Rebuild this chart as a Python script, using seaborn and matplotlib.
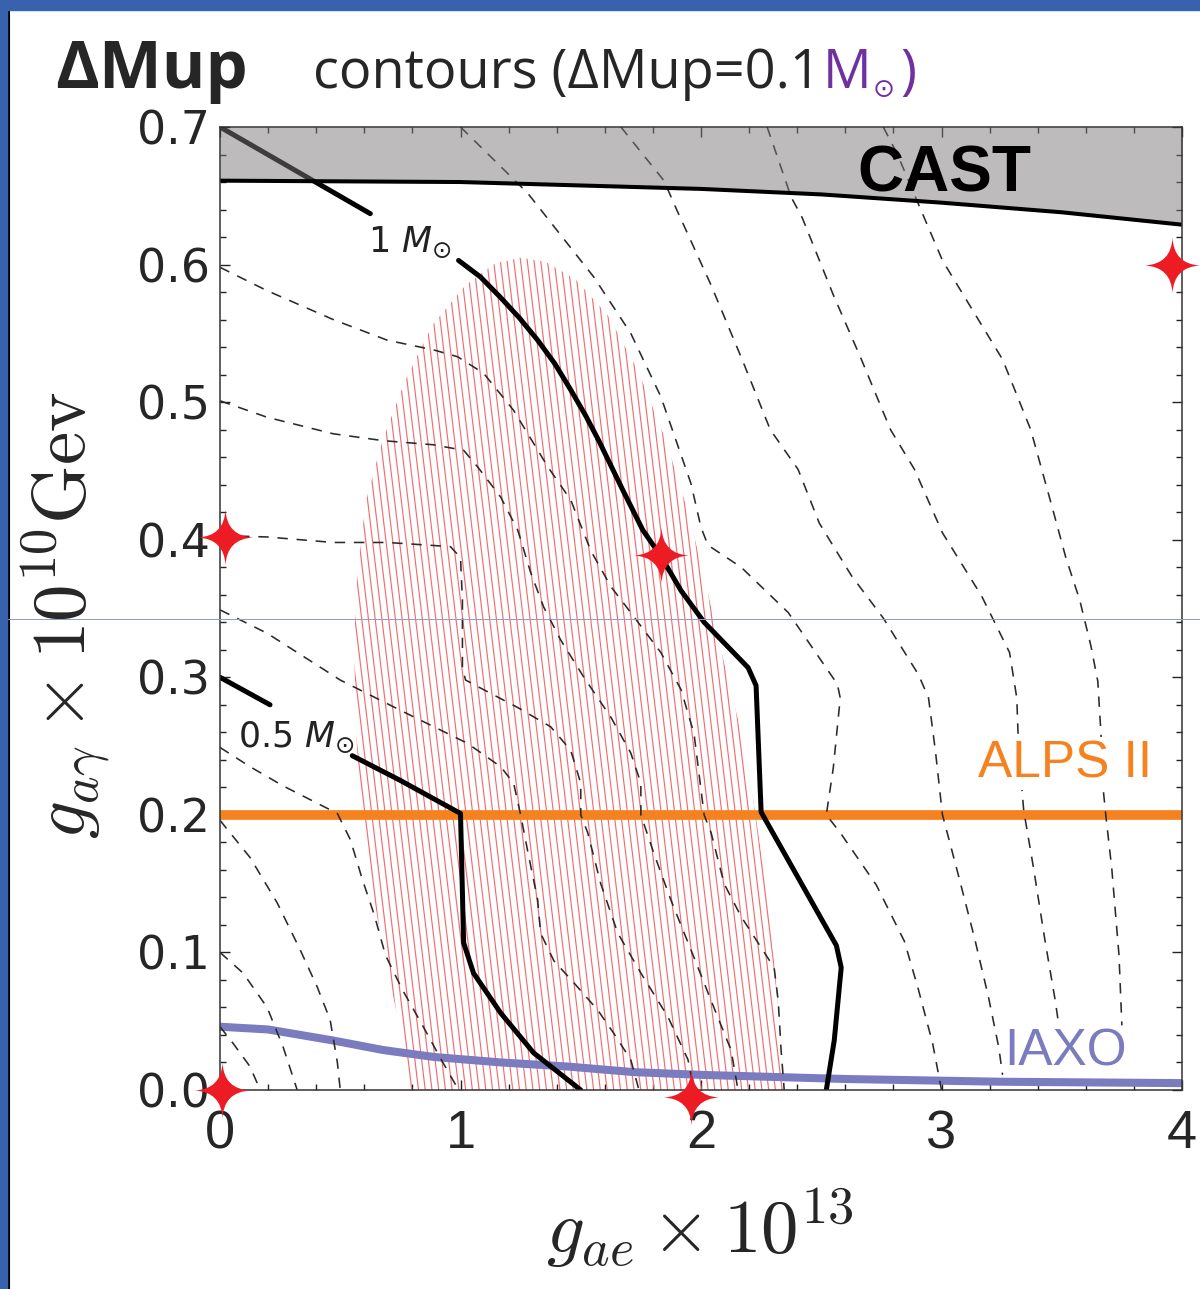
import numpy as np
import pandas as pd
import seaborn as sns
import matplotlib.pyplot as plt
from matplotlib.path import Path
from matplotlib.patches import Polygon, Rectangle
from matplotlib.collections import LineCollection
from matplotlib.lines import Line2D
from matplotlib.ticker import MultipleLocator

sns.set_theme(style="ticks")
plt.rcParams["font.family"] = ["DejaVu Sans"]
plt.rcParams["mathtext.fontset"] = "cm"

# values: x = g_ae * 1e13, y = g_ay * 1e10 GeV
x_ticks = [0, 1, 2, 3, 4]
x_ticklabels = ["0", "1", "2", "3", "4"]
y_ticks = [0.0, 0.1, 0.2, 0.3, 0.4, 0.5, 0.6, 0.7]
y_ticklabels = ["0.0", "0.1", "0.2", "0.3", "0.4", "0.5", "0.6", "0.7"]

# CAST exclusion boundary (shaded above)
cast_x = [0.0, 1.0, 2.0, 2.5, 3.0, 3.5, 4.0]
cast_y = [0.661, 0.660, 0.655, 0.651, 0.645, 0.638, 0.629]

# ALPS II sensitivity
alps_x = [0.0, 4.0]
alps_y = [0.2, 0.2]

# IAXO sensitivity
iaxo_x = [0.0, 0.2, 0.47, 0.68, 0.89, 1.17, 1.45, 1.72, 2.0, 2.6, 3.25, 4.0]
iaxo_y = [0.046, 0.044, 0.036, 0.029, 0.024, 0.020, 0.017, 0.013, 0.011, 0.008, 0.006, 0.005]

# red hatched region
hatch_x = [0.792, 0.750, 0.688, 0.625, 0.583, 0.563, 0.558, 0.571, 0.608, 0.675, 0.771, 0.883,
           1.021, 1.146, 1.250, 1.354, 1.479, 1.613, 1.738, 1.854, 1.950, 2.021, 2.083, 2.154,
           2.217, 2.267, 2.304, 2.329, 2.342]
hatch_y = [0.000, 0.044, 0.094, 0.153, 0.211, 0.269, 0.327, 0.378, 0.429, 0.472, 0.516, 0.556,
           0.585, 0.601, 0.605, 0.602, 0.589, 0.563, 0.523, 0.472, 0.418, 0.367, 0.320, 0.269,
           0.211, 0.153, 0.094, 0.044, 0.000]

# solid contours (0.5 and 1 Msun), split around their labels
m05a_x = [0.0, 0.208]
m05a_y = [0.300, 0.280]
m05b_x = [0.55, 0.75, 1.0, 1.013, 1.054, 1.167, 1.304, 1.5]
m05b_y = [0.243, 0.225, 0.201, 0.107, 0.085, 0.056, 0.027, 0.0]
m10a_x = [0.0, 0.625]
m10a_y = [0.700, 0.637]
m10b_x = [0.992, 1.083, 1.167, 1.246, 1.321, 1.392, 1.458, 1.521, 1.575, 1.675, 1.758, 1.833,
          1.917, 2.013, 2.196, 2.229, 2.250, 2.279, 2.563, 2.583, 2.554, 2.521]
m10b_y = [0.603, 0.591, 0.576, 0.561, 0.545, 0.528, 0.509, 0.490, 0.472, 0.436, 0.407, 0.388,
          0.363, 0.340, 0.307, 0.294, 0.202, 0.193, 0.105, 0.089, 0.036, 0.0]

# dashed contours, every 0.1 Msun
c01_x = [0.0, 0.054, 0.125, 0.167]
c01_y = [0.046, 0.034, 0.017, 0.0]
c02_x = [0.0, 0.096, 0.196, 0.263, 0.321]
c02_y = [0.100, 0.085, 0.060, 0.031, 0.0]
c03_x = [0.0, 0.125, 0.238, 0.333, 0.404, 0.458, 0.488, 0.5]
c03_y = [0.196, 0.169, 0.136, 0.102, 0.075, 0.051, 0.020, 0.0]
c04_x = [0.0, 0.125, 0.263, 0.488, 0.542, 0.592, 0.642, 0.688, 0.758, 0.842, 0.917, 0.992]
c04_y = [0.249, 0.235, 0.221, 0.201, 0.182, 0.153, 0.127, 0.098, 0.073, 0.047, 0.023, 0.0]
c06_x = [0.0, 0.196, 0.375, 0.5, 0.75, 1.029, 1.167, 1.221, 1.25, 1.279, 1.321, 1.333, 1.388,
         1.471, 1.571, 1.638, 1.708, 1.742]
c06_y = [0.349, 0.332, 0.312, 0.298, 0.276, 0.252, 0.235, 0.223, 0.200, 0.174, 0.138, 0.114,
         0.094, 0.078, 0.058, 0.041, 0.022, 0.0]
c07_x = [0.0, 0.196, 0.471, 0.696, 0.958, 1.0, 1.008, 1.008, 1.021, 1.096, 1.238, 1.375, 1.458,
         1.5, 1.5, 1.529, 1.583, 1.654, 1.75, 1.863, 1.946, 1.971]
c07_y = [0.403, 0.402, 0.398, 0.398, 0.395, 0.387, 0.356, 0.307, 0.298, 0.291, 0.278, 0.264,
         0.247, 0.223, 0.200, 0.187, 0.150, 0.114, 0.085, 0.053, 0.022, 0.0]
c08_x = [0.0, 0.196, 0.471, 0.679, 0.888, 1.013, 1.071, 1.167, 1.238, 1.292, 1.346, 1.417, 1.513,
         1.625, 1.708, 1.75, 1.75, 1.804, 1.875, 1.958, 2.042, 2.125, 2.154]
c08_y = [0.501, 0.489, 0.477, 0.472, 0.469, 0.465, 0.453, 0.431, 0.407, 0.376, 0.351, 0.327,
         0.300, 0.271, 0.245, 0.223, 0.200, 0.172, 0.138, 0.102, 0.065, 0.029, 0.0]
c09_x = [0.0, 0.196, 0.471, 0.696, 0.888, 0.988, 1.096, 1.221, 1.363, 1.458, 1.542, 1.625, 1.721,
         1.833, 1.917, 1.971, 1.988, 2.013, 2.042, 2.096, 2.167, 2.263, 2.304, 2.321, 2.333, 2.346]
c09_y = [0.598, 0.581, 0.560, 0.545, 0.538, 0.533, 0.521, 0.494, 0.453, 0.429, 0.392, 0.366,
         0.344, 0.318, 0.291, 0.259, 0.235, 0.200, 0.187, 0.150, 0.126, 0.100, 0.089, 0.065,
         0.029, 0.0]
c11_x = [1.0, 1.279, 1.554, 1.708, 1.833, 1.958, 2.0, 2.029, 2.167, 2.363, 2.567, 2.579, 2.55,
         2.521, 2.579, 2.729, 2.846, 2.904, 2.963, 3.0]
c11_y = [0.700, 0.652, 0.591, 0.550, 0.504, 0.441, 0.409, 0.396, 0.380, 0.347, 0.295, 0.285,
         0.234, 0.200, 0.187, 0.149, 0.108, 0.073, 0.034, 0.0]
c12_x = [1.667, 1.846, 1.896, 2.042, 2.171, 2.288, 2.404, 2.492, 2.625, 2.758, 2.904, 2.946,
         2.975, 3.004, 3.063, 3.138, 3.196, 3.238, 3.254]
c12_y = [0.700, 0.661, 0.641, 0.585, 0.531, 0.480, 0.451, 0.412, 0.374, 0.343, 0.302, 0.285,
         0.246, 0.200, 0.161, 0.110, 0.067, 0.031, 0.011]
c13_x = [2.275, 2.375, 2.421, 2.55, 2.667, 2.788, 2.888, 3.004, 3.167, 3.283, 3.313, 3.321,
         3.342, 3.383, 3.429, 3.471, 3.488]
c13_y = [0.700, 0.649, 0.634, 0.578, 0.531, 0.480, 0.451, 0.405, 0.359, 0.318, 0.285, 0.246,
         0.203, 0.161, 0.110, 0.067, 0.047]
c14_x = [2.758, 2.817, 2.904, 3.004, 3.108, 3.254, 3.371, 3.458, 3.517, 3.575, 3.621, 3.65,
         3.663, 3.671, 3.683, 3.708, 3.738, 3.75]
c14_y = [0.700, 0.680, 0.644, 0.603, 0.573, 0.531, 0.480, 0.425, 0.387, 0.356, 0.323, 0.297,
         0.259, 0.221, 0.200, 0.161, 0.098, 0.047]

# red star markers added on the slide
star_x = [0.008, 1.958, 0.02, 1.833, 3.958]
star_y = [0.0, -0.005, 0.402, 0.389, 0.600]

W, H = 1200, 1289
fig = plt.figure(figsize=(12, 12.89), dpi=100)
fig.patch.set_facecolor("white")
ax = fig.add_axes([220 / W, (H - 1090) / H, 962 / W, 963 / H])
ax.set_facecolor("white")


def line(xs, ys, **kw):
    df = pd.DataFrame({"x": xs, "y": ys})
    sns.lineplot(data=df, x="x", y="y", sort=False, estimator=None, ax=ax, **kw)


# hatched band: steep "\" strokes clipped to the region outline
poly = Polygon(np.column_stack([hatch_x, hatch_y]), closed=True, fill=False,
               edgecolor="none")
ax.add_patch(poly)
starts = np.arange(0.3, 3.3, 0.028)
segs = [[(s, -0.05), (s - 0.69 * 0.8, 0.75)] for s in starts]
lc = LineCollection(segs, colors="#f26d70", linewidths=0.85, zorder=1)
ax.add_collection(lc)
lc.set_clip_path(poly)

line(iaxo_x, iaxo_y, color="#7b7bc0", lw=5.8, zorder=2)
line(alps_x, alps_y, color="#f5821f", lw=7, zorder=2.5, solid_capstyle="butt")

dashed = [(c01_x, c01_y), (c02_x, c02_y), (c03_x, c03_y), (c04_x, c04_y),
          (c06_x, c06_y), (c07_x, c07_y), (c08_x, c08_y), (c09_x, c09_y),
          (c11_x, c11_y), (c12_x, c12_y), (c13_x, c13_y), (c14_x, c14_y)]
for xs, ys in dashed:
    line(xs, ys, color="#2a2a2a", lw=1.15, linestyle=(0, (6.5, 5.5)), zorder=3)

for xs, ys in [(m05a_x, m05a_y), (m05b_x, m05b_y), (m10a_x, m10a_y), (m10b_x, m10b_y)]:
    line(xs, ys, color="black", lw=3.6, zorder=3.5, solid_joinstyle="round")

# CAST region drawn semi-transparent over the contours
ax.fill_between(cast_x, cast_y, 0.7, color="#7d7878", alpha=0.5, lw=0, zorder=4)
line(cast_x, cast_y, color="black", lw=2.9, zorder=5)

ax.text(3.013, 0.653, "CAST", fontsize=46, fontweight="bold", family="Liberation Sans",
        ha="center", va="baseline", color="black", zorder=6)
ax.text(3.875, 0.2275, "ALPS II", fontsize=37, family="Liberation Sans", ha="right",
        va="baseline", color="#f5821f", zorder=6,
        bbox=dict(facecolor="white", edgecolor="none", pad=1))
ax.text(3.771, 0.018, "IAXO", fontsize=37, family="Liberation Sans", ha="right",
        va="baseline", color="#7b7bc0", zorder=6)
ax.text(0.79, 0.616, r"$1\ M_{\odot}$", fontsize=25, math_fontfamily="dejavusans",
        ha="center", va="center", color="#222222", zorder=6)
ax.text(0.317, 0.2565, r"$0.5\ M_{\odot}$", fontsize=25, math_fontfamily="dejavusans",
        ha="center", va="center", color="#222222", zorder=6)

# four-point sparkle markers
sv = [(0, 1), (0.05, 0.05), (1, 0), (0.05, -0.05), (0, -1), (-0.05, -0.05), (-1, 0),
      (-0.05, 0.05), (0, 1), (0, 1)]
sc = [Path.MOVETO] + [Path.CURVE3] * 8 + [Path.CLOSEPOLY]
star = Path(sv, sc)
ax.plot(star_x, star_y, ls="none", marker=star, ms=40, color="#ed1c24", mec="none",
        clip_on=False, zorder=10)

ax.set_xlim(0, 4)
ax.set_ylim(0, 0.7)
ax.set_xticks(x_ticks)
ax.set_xticklabels(x_ticklabels)
ax.set_yticks(y_ticks)
ax.set_yticklabels(y_ticklabels)
ax.xaxis.set_minor_locator(MultipleLocator(0.2))
ax.yaxis.set_minor_locator(MultipleLocator(0.02))
ax.tick_params(which="both", direction="in", top=True, right=True, color="#222222", width=1.0)
ax.tick_params(which="major", length=7)
ax.tick_params(which="minor", length=4.5)
ax.tick_params(axis="y", labelsize=33, pad=7)
ax.tick_params(axis="x", labelsize=39, pad=14)
for lab in ax.get_xticklabels():
    lab.set_fontfamily("Liberation Sans")
for sp in ax.spines.values():
    sp.set_color("#333333")
    sp.set_linewidth(1.1)
    sp.set_zorder(7)

ax.set_xlabel(r"$g_{ae}\times 10^{13}$", fontsize=54)
ax.xaxis.set_label_coords(0.499, -0.100)
ax.set_ylabel(r"$g_{a\gamma}\times 10^{10}\mathrm{Gev}$", fontsize=54)
ax.yaxis.set_label_coords(-0.112, 0.493)


# slide title, pieces placed one after another
def fx(px):
    return px / W


def fy(py):
    return 1 - py / H


title_font = ["Open Sans", "DejaVu Sans"]
fig.text(fx(55), fy(88), "ΔMup", fontsize=48, fontweight="bold", family=title_font,
         va="baseline", ha="left")
t1 = fig.text(fx(313), fy(88), "contours (ΔMup=0.1", fontsize=39, family=title_font,
              va="baseline", ha="left")
fig.canvas.draw()
x_end = t1.get_window_extent().x1
t2 = fig.text((x_end + 2) / W, fy(88), "M", fontsize=39, family=title_font,
              va="baseline", ha="left", color="#7030a0")
fig.canvas.draw()
x_end = t2.get_window_extent().x1
t3 = fig.text((x_end + 1) / W, fy(97), "⊙", fontsize=19, family=["DejaVu Sans"],
              va="baseline", ha="left", color="#7030a0")
fig.canvas.draw()
x_end = t3.get_window_extent().x1
fig.text((x_end + 6) / W, fy(88), ")", fontsize=39, family=title_font,
         va="baseline", ha="left", color="#7030a0")

# slide frame decorations
fig.patches.append(Rectangle((0, fy(10)), 1, 10 / H, transform=fig.transFigure,
                             color="#3862ae", zorder=20))
fig.patches.append(Rectangle((0, 0), 7 / W, 1, transform=fig.transFigure,
                             color="#3862ae", zorder=20))
fig.lines.append(Line2D([fx(8.5), fx(8.5)], [0, fy(10)], transform=fig.transFigure,
                        color="black", lw=1.5, zorder=20))
fig.lines.append(Line2D([0, 1], [fy(619), fy(619)], transform=fig.transFigure,
                        color="#8d9bc9", lw=0.7, zorder=20))

fig.savefig("out.png", dpi=100)
